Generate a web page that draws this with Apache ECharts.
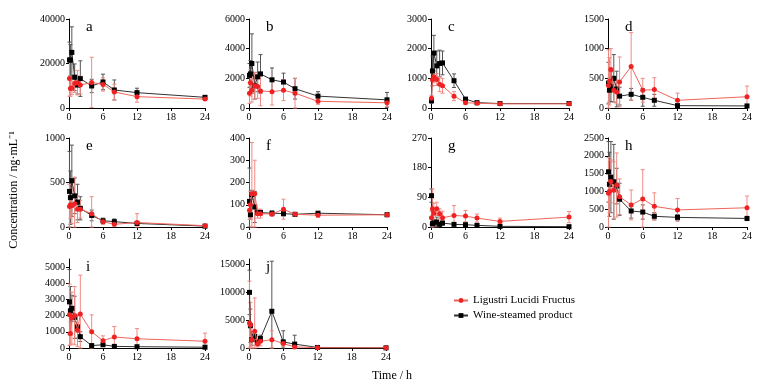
<!DOCTYPE html>
<html>
<head>
<meta charset="utf-8">
<script src="https://cdn.jsdelivr.net/npm/echarts@6/dist/echarts.min.js"></script>
<style>
html, body { margin: 0; padding: 0; background: #fff; }
#main { width: 770px; height: 385px; }
</style>
</head>
<body>
<div id="main"></div>
<script>
// sampling times (h)
var timeH = [0.083, 0.25, 0.5, 1, 1.5, 2, 4, 6, 8, 12, 24];

// panel letters and y axis scales
var panelNames = ['a', 'b', 'c', 'd', 'e', 'f', 'g', 'h', 'i', 'j'];
var panelMax   = [40000, 6000, 3000, 1500, 1000, 400, 270, 2500, 5500, 16000];
var panelStep  = [20000, 2000, 1000, 500, 500, 100, 90, 500, 1000, 5000];
var panelTicks = [null, null, null, null, null, null, null, null,
                  [0, 1000, 2000, 3000, 4000, 5000], [0, 5000, 10000, 15000]];

// Ligustri Lucidi Fructus (mean, SD) and wine-steamed product (mean, SD)
var aRed = [13300, 8800, 9000, 11000, 11400, 10300, 11500, 10600, 7200, 5100, 4000];
var aRedSd = [8000, 3500, 3000, 4000, 5500, 4000, 11300, 3000, 3500, 2500, 600];
var aWine = [21600, 21500, 25000, 13800, 10300, 13200, 9900, 11700, 8100, 6900, 4800];
var aWineSd = [8000, 7000, 11500, 6000, 4000, 8000, 3000, 3500, 4500, 2000, 800];

var bRed = [1000, 1700, 1200, 1500, 1450, 1150, 1100, 1200, 1000, 450, 350];
var bRedSd = [700, 900, 800, 900, 800, 1000, 900, 700, 1000, 200, 250];
var bWine = [2200, 2300, 3000, 1500, 2100, 2300, 1900, 1750, 1300, 800, 550];
var bWineSd = [800, 900, 2000, 900, 1000, 1300, 800, 600, 700, 300, 500];

var cRed = [330, 950, 1050, 960, 800, 750, 400, 180, 160, 140, 140];
var cRedSd = [100, 200, 200, 200, 250, 250, 150, 40, 30, 20, 20];
var cWine = [250, 1250, 1850, 1420, 1500, 1520, 920, 300, 180, 150, 150];
var cWineSd = [100, 500, 600, 500, 450, 400, 230, 50, 30, 20, 20];

var dRed = [380, 450, 650, 300, 270, 440, 700, 300, 310, 130, 190];
var dRedSd = [600, 400, 350, 200, 200, 420, 570, 200, 200, 120, 180];
var dWine = [420, 300, 360, 500, 320, 200, 230, 180, 130, 40, 35];
var dWineSd = [350, 200, 250, 400, 300, 150, 100, 150, 100, 20, 15];

var eRed = [230, 250, 240, 260, 200, 200, 150, 60, 30, 50, 15];
var eRedSd = [250, 150, 200, 300, 150, 100, 190, 30, 20, 100, 10];
var eWine = [400, 330, 520, 350, 280, 210, 130, 70, 60, 40, 10];
var eWineSd = [450, 300, 400, 200, 200, 130, 60, 30, 30, 20, 5];

var fRed = [75, 100, 150, 150, 60, 60, 58, 80, 57, 53, 55];
var fRedSd = [40, 60, 230, 150, 20, 20, 10, 45, 8, 8, 8];
var fWine = [115, 55, 145, 90, 65, 65, 62, 60, 57, 62, 55];
var fWineSd = [150, 20, 20, 70, 10, 10, 10, 10, 8, 8, 8];

var gRed = [28, 55, 42, 55, 40, 28, 35, 33, 27, 17, 30];
var gRedSd = [20, 60, 30, 20, 15, 20, 30, 17, 12, 10, 17];
var gWine = [95, 10, 12, 15, 8, 12, 8, 7, 5, 2, 1];
var gWineSd = [20, 8, 10, 15, 5, 6, 4, 4, 3, 2, 1];

var hRed = [950, 1000, 1280, 1030, 1180, 850, 620, 790, 580, 480, 540];
var hRedSd = [1000, 600, 600, 800, 900, 500, 420, 820, 380, 320, 330];
var hWine = [1550, 1200, 1400, 1270, 1150, 780, 450, 420, 300, 270, 240];
var hWineSd = [850, 900, 1000, 1050, 500, 450, 200, 200, 100, 80, 60];

var iRed = [2050, 900, 1850, 2000, 1100, 2100, 1000, 450, 680, 570, 420];
var iRedSd = [1900, 700, 1600, 1800, 1000, 2400, 1050, 300, 650, 630, 500];
var iWine = [2850, 2300, 2450, 1900, 1300, 700, 150, 200, 100, 80, 50];
var iWineSd = [2000, 1500, 800, 1300, 700, 300, 50, 100, 50, 30, 20];

var jRed = [4500, 4200, 1500, 3000, 700, 1200, 1500, 800, 200, 50, 30];
var jRedSd = [7500, 4000, 1500, 6000, 500, 800, 1600, 500, 200, 30, 20];
var jWine = [10000, 4000, 1500, 2100, 1000, 1700, 6600, 1100, 700, 100, 30];
var jWineSd = [4000, 3000, 1000, 800, 500, 600, 9000, 2000, 1600, 50, 20];

var redData = [aRed, bRed, cRed, dRed, eRed, fRed, gRed, hRed, iRed, jRed];
var redSd = [aRedSd, bRedSd, cRedSd, dRedSd, eRedSd, fRedSd, gRedSd, hRedSd, iRedSd, jRedSd];
var wineData = [aWine, bWine, cWine, dWine, eWine, fWine, gWine, hWine, iWine, jWine];
var wineSd = [aWineSd, bWineSd, cWineSd, dWineSd, eWineSd, fWineSd, gWineSd, hWineSd, iWineSd, jWineSd];

// plot boxes [left, top, width, height]
var boxes = [
    [69, 19, 136, 89], [249, 19, 138, 89], [431, 19, 138, 89], [608, 19, 139, 89],
    [69, 138, 136, 89], [249, 138, 138, 89], [431, 138, 138, 89], [608, 138, 139, 89],
    [69, 259, 136, 89], [249, 259, 137, 89]
];

var serifFont = 'Liberation Serif';
var redName = 'Ligustri Lucidi Fructus';
var wineName = 'Wine-steamed product';

function plainNumber(v) {
    return String(v);
}

function makeErrorBar(ymax, color) {
    return function(params, api) {
        var x = api.value(0), y = api.value(1), sd = api.value(2);
        var hi = api.coord([x, Math.min(y + sd, ymax)]);
        var lo = api.coord([x, Math.max(y - sd, 0)]);
        var style = { stroke: color, lineWidth: 1 };
        return {
            type: 'group',
            children: [
                { type: 'line', shape: { x1: hi[0], y1: hi[1], x2: lo[0], y2: lo[1] }, style: style },
                { type: 'line', shape: { x1: hi[0] - 2, y1: hi[1], x2: hi[0] + 2, y2: hi[1] }, style: style },
                { type: 'line', shape: { x1: lo[0] - 2, y1: lo[1], x2: lo[0] + 2, y2: lo[1] }, style: style }
            ]
        };
    };
}

function zipSd(vals, sds) {
    var out = [];
    for (var k = 0; k < timeH.length; k++) {
        out.push([timeH[k], vals[k], sds[k]]);
    }
    return out;
}

function zipXY(vals) {
    var out = [];
    for (var k = 0; k < timeH.length; k++) {
        out.push([timeH[k], vals[k]]);
    }
    return out;
}

var grids = [], xAxes = [], yAxes = [], series = [], titles = [];
for (var p = 0; p < panelNames.length; p++) {
    var b = boxes[p];
    grids.push({ left: b[0], top: b[1], width: b[2], height: b[3], containLabel: false });
    xAxes.push({
        type: 'value', gridIndex: p, min: 0, max: 24, interval: 6,
        axisLine: { lineStyle: { color: '#000', width: 1 } },
        axisTick: { length: 3, lineStyle: { color: '#000' } },
        axisLabel: { color: '#000', fontFamily: serifFont, fontSize: 10, margin: 4, formatter: plainNumber },
        splitLine: { show: false }
    });
    var yAxis = {
        type: 'value', gridIndex: p, min: 0, max: panelMax[p], interval: panelStep[p],
        axisLine: { show: true, lineStyle: { color: '#000', width: 1 } },
        axisTick: { show: true, length: 3, lineStyle: { color: '#000' } },
        axisLabel: { color: '#000', fontFamily: serifFont, fontSize: 10, margin: 4, formatter: plainNumber },
        splitLine: { show: false }
    };
    if (panelTicks[p]) {
        yAxis.axisTick.customValues = panelTicks[p];
        yAxis.axisLabel.customValues = panelTicks[p];
    }
    yAxes.push(yAxis);
    titles.push({
        text: panelNames[p], left: b[0] + 12, top: b[1] - 4,
        textStyle: { fontFamily: serifFont, fontSize: 15, fontWeight: 'normal', color: '#000' }
    });

    series.push({
        type: 'custom', xAxisIndex: p, yAxisIndex: p, z: 1, silent: true,
        renderItem: makeErrorBar(panelMax[p], '#555555'),
        data: zipSd(wineData[p], wineSd[p])
    });
    series.push({
        type: 'custom', xAxisIndex: p, yAxisIndex: p, z: 1, silent: true,
        renderItem: makeErrorBar(panelMax[p], '#F08A84'),
        data: zipSd(redData[p], redSd[p])
    });
    series.push({
        name: wineName, type: 'line', xAxisIndex: p, yAxisIndex: p, z: 3,
        symbol: 'rect', symbolSize: 5, animation: false,
        lineStyle: { color: '#333', width: 1 },
        itemStyle: { color: '#000' },
        data: zipXY(wineData[p])
    });
    series.push({
        name: redName, type: 'line', xAxisIndex: p, yAxisIndex: p, z: 4,
        symbol: 'circle', symbolSize: 5, animation: false,
        lineStyle: { color: '#F0645A', width: 1 },
        itemStyle: { color: '#EE2222' },
        data: zipXY(redData[p])
    });
}

var chart = echarts.init(document.getElementById('main'));
chart.setOption({
    backgroundColor: '#fff',
    animation: false,
    textStyle: { fontFamily: serifFont },
    title: titles,
    grid: grids,
    xAxis: xAxes,
    yAxis: yAxes,
    legend: {
        data: [redName, wineName],
        orient: 'vertical', left: 448, top: 290,
        itemWidth: 14, itemHeight: 6, itemGap: 4,
        textStyle: { fontFamily: serifFont, fontSize: 11, color: '#000' }
    },
    graphic: [
        {
            type: 'text', x: 14, y: 190, rotation: Math.PI / 2,
            style: {
                text: 'Concentration / ng·mL⁻¹', fontFamily: serifFont, fontSize: 12,
                fill: '#000', textAlign: 'center', textVerticalAlign: 'middle'
            }
        },
        {
            type: 'text', x: 392, y: 376,
            style: {
                text: 'Time / h', fontFamily: serifFont, fontSize: 12,
                fill: '#000', textAlign: 'center', textVerticalAlign: 'middle'
            }
        }
    ],
    series: series
});
</script>
</body>
</html>
